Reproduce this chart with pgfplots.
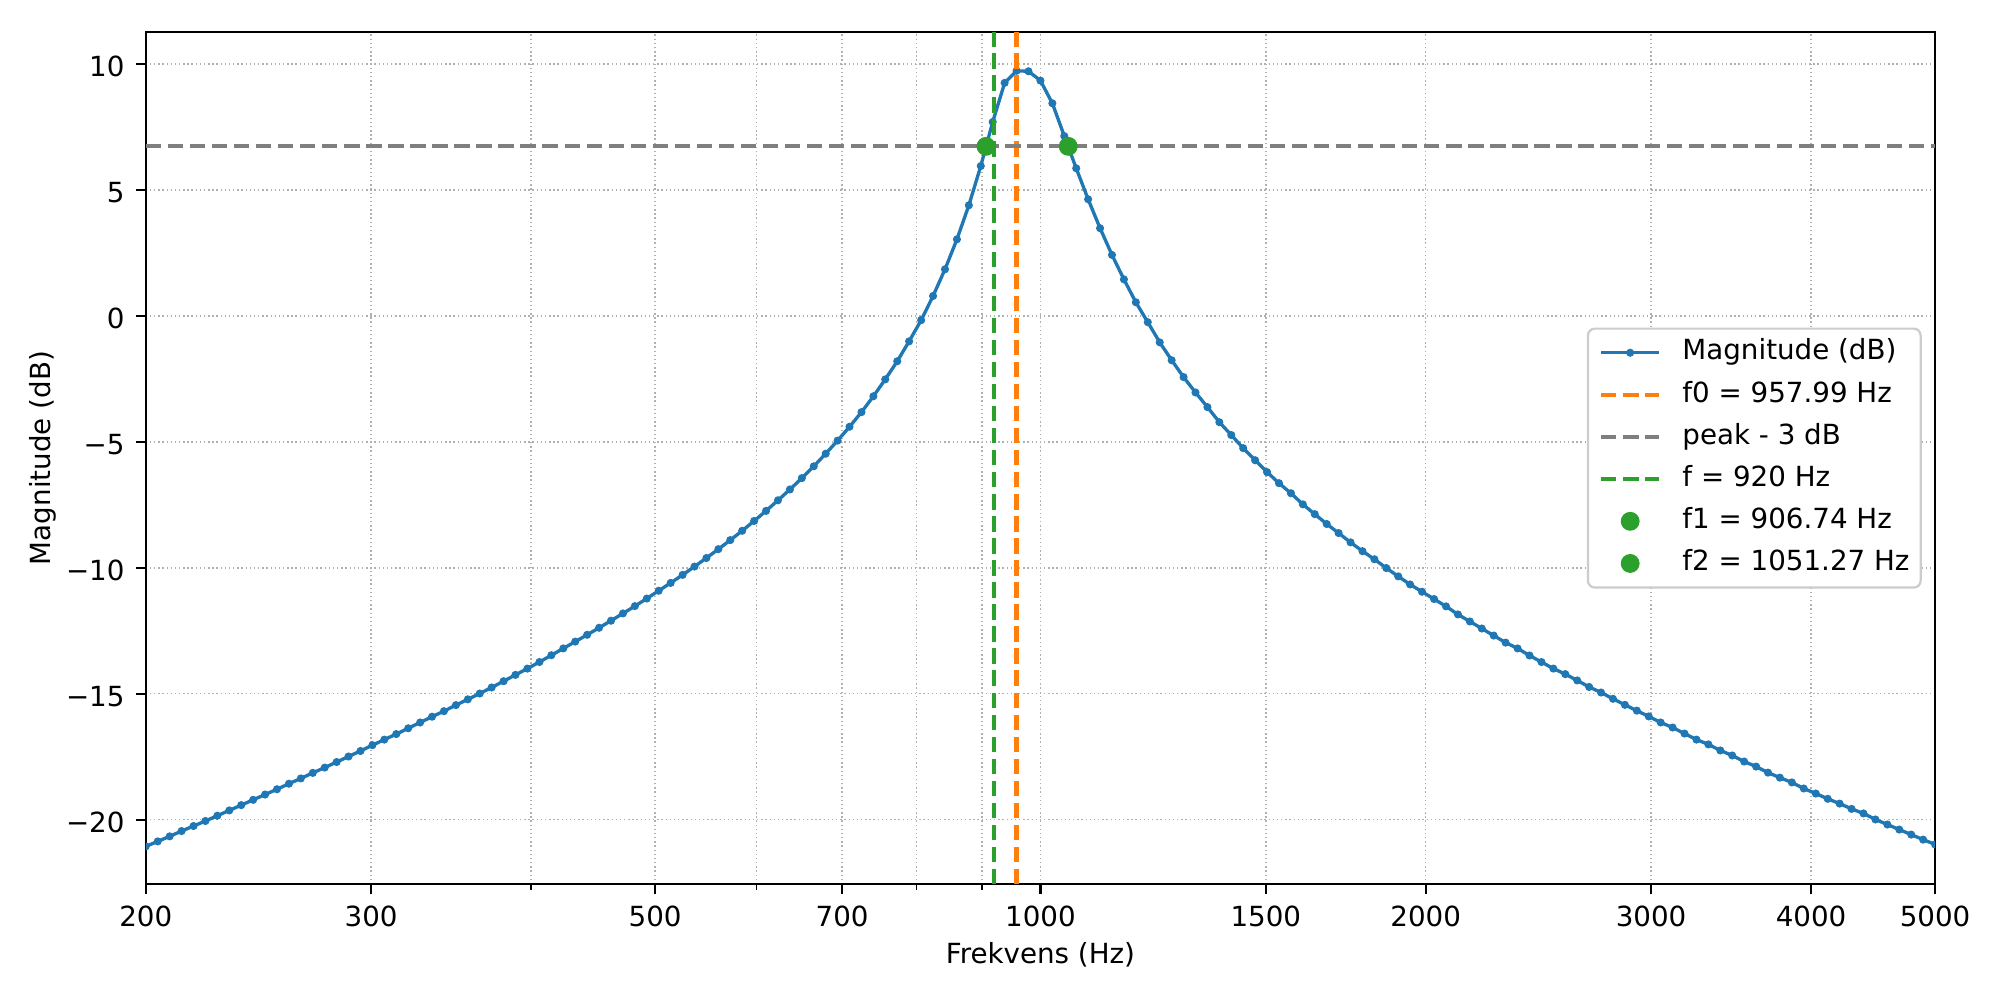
\documentclass[border=0pt]{standalone}
\usepackage{fontspec}
\setmainfont{DejaVu Sans}
\usepackage{pgfplots}
\usepackage{pgfplotstable}
\pgfplotsset{compat=1.18}

\definecolor{mplblue}{HTML}{1F77B4}
\definecolor{mplorange}{HTML}{FF7F0E}
\definecolor{mplgreen}{HTML}{2CA02C}
\definecolor{mplgray}{HTML}{7F7F7F}
\definecolor{gridgray}{HTML}{B0B0B0}
\definecolor{legendedge}{HTML}{CCCCCC}

% magnitude response, 151 log-spaced points from 200 Hz to 5000 Hz
\pgfplotstableread{
f mag
200 -21.06
204.338 -20.86
208.771 -20.66
213.299 -20.45
217.926 -20.25
222.653 -20.05
227.483 -19.84
232.417 -19.63
237.458 -19.42
242.609 -19.21
247.872 -19.00
253.249 -18.79
258.742 -18.57
264.354 -18.36
270.089 -18.14
275.947 -17.93
281.933 -17.71
288.048 -17.49
294.296 -17.27
300.680 -17.04
307.202 -16.82
313.866 -16.60
320.674 -16.37
327.629 -16.14
334.736 -15.91
341.997 -15.69
349.415 -15.45
356.994 -15.22
364.738 -14.99
372.650 -14.75
380.736 -14.50
388.995 -14.25
397.432 -14.00
406.053 -13.74
414.861 -13.47
423.860 -13.20
433.054 -12.93
442.447 -12.66
452.045 -12.38
461.850 -12.10
471.868 -11.81
482.103 -11.52
492.561 -11.22
503.245 -10.91
514.161 -10.60
525.313 -10.28
536.708 -9.95
548.349 -9.61
560.244 -9.26
572.396 -8.90
584.812 -8.53
597.497 -8.14
610.458 -7.74
623.699 -7.32
637.228 -6.89
651.036 -6.44
665.158 -5.97
679.586 -5.47
694.327 -4.95
709.388 -4.40
724.780 -3.82
740.501 -3.19
756.564 -2.52
772.974 -1.80
789.741 -1.01
806.870 -0.17
824.372 0.79
842.254 1.85
860.523 3.04
879.189 4.39
898.260 5.95
917.744 7.70
937.651 9.25
957.990 9.73
978.770 9.71
1000.00 9.34
1021.69 8.44
1043.86 7.14
1066.50 5.86
1089.63 4.63
1113.27 3.48
1137.42 2.42
1162.09 1.45
1187.29 0.54
1213.05 -0.25
1239.36 -1.05
1266.25 -1.76
1293.71 -2.43
1321.77 -3.04
1350.45 -3.62
1379.74 -4.22
1409.67 -4.73
1440.24 -5.25
1471.48 -5.73
1503.40 -6.20
1536.01 -6.64
1569.33 -7.04
1603.37 -7.48
1638.15 -7.87
1673.68 -8.26
1709.99 -8.62
1747.08 -8.99
1784.97 -9.34
1823.69 -9.66
1863.25 -10.01
1903.68 -10.34
1944.98 -10.66
1987.16 -10.95
2030.27 -11.24
2074.31 -11.53
2119.30 -11.85
2165.27 -12.13
2212.24 -12.41
2260.23 -12.69
2309.25 -12.97
2359.34 -13.20
2410.52 -13.48
2462.81 -13.74
2516.23 -14.00
2570.81 -14.22
2626.57 -14.47
2683.54 -14.73
2741.75 -14.95
2801.22 -15.20
2861.98 -15.44
2924.06 -15.67
2987.49 -15.90
3052.29 -16.14
3118.50 -16.34
3186.14 -16.58
3255.18 -16.82
3325.79 -17.01
3397.93 -17.25
3471.64 -17.45
3546.94 -17.69
3623.90 -17.89
3702.50 -18.13
3782.80 -18.33
3864.90 -18.52
3948.70 -18.76
4034.40 -18.96
4121.90 -19.17
4211.30 -19.36
4302.60 -19.57
4395.90 -19.75
4491.30 -19.99
4588.70 -20.19
4688.30 -20.39
4789.90 -20.59
4893.90 -20.79
5000.00 -20.98
}\magdata

\begin{document}
\begin{tikzpicture}
\begin{axis}[
  name=ax,
  scale only axis,
  width=645.4bp, height=307.4bp,
  xmode=log,
  xmin=200, xmax=5000,
  ymin=-22.56, ymax=11.27,
  xtick={200,300,500,700,1000,1500,2000,3000,4000,5000},
  xticklabels={200,300,500,700,1000,1500,2000,3000,4000,5000},
  minor xtick={400,600,800,900},
  ytick={-20,-15,-10,-5,0,5,10},
  yticklabels={−20,−15,−10,−5,0,5,10},
  tick align=outside,
  tick pos=left,
  major tick length=3.5bp,
  minor tick length=2bp,
  major tick style={black, line width=0.8bp},
  minor tick style={black, line width=0.6bp},
  axis line style={line width=0.8bp},
  grid=both,
  major grid style={gridgray, line width=0.5bp, dash pattern=on 0.5bp off 1bp},
  minor grid style={gridgray, line width=0.5bp, dash pattern=on 0.5bp off 1bp},
  font=\fontsize{10bp}{12bp}\selectfont,
  xticklabel style={anchor=north, inner sep=0pt, yshift=-4.3bp},
  yticklabel style={anchor=east, inner sep=0pt, xshift=-3.97bp, yshift=-0.85bp},
  xlabel={Frekvens (Hz)},
  ylabel={Magnitude (dB)},
  xlabel style={at={(axis description cs:0.5,-0.0930)}, anchor=base, inner sep=0pt},
  ylabel style={at={(axis description cs:-0.05345,0.5)}, anchor=base, inner sep=0pt},
  clip marker paths=true,
  legend cell align=left,
  legend style={
    at={(axis description cs:1,0.5)}, anchor=east, xshift=-4.8bp,
    draw=legendedge, line width=0.8bp, rounded corners=2.5bp, fill=white,
    inner xsep=4bp, inner ysep=3.7bp, row sep=5.2bp,
    font=\fontsize{10bp}{12bp}\selectfont,
    nodes={inner sep=0pt, text height=7.6bp, text depth=2.4bp},
    /tikz/every odd column/.append style={column sep=7.6bp},
  },
  legend image code/.code={
    \draw[mark repeat=2, mark phase=2, #1]
      plot coordinates {(0bp,0bp) (10.5bp,0bp) (21bp,0bp)};
  },
]

\addplot[mplblue, line width=1.2bp, mark=*, mark size=1.25bp,
  mark options={solid, line width=0.4bp}] table[x=f, y=mag] {\magdata};
\addlegendentry{Magnitude (dB)}

\addplot[mplorange, line width=1.5bp, dash pattern=on 5.55bp off 2.4bp]
  coordinates {(957.99,-22.56) (957.99,11.27)};
\addlegendentry{f0 = 957.99 Hz}

\addplot[mplgray, line width=1.5bp, dash pattern=on 5.55bp off 2.4bp]
  coordinates {(200,6.73) (5000,6.73)};
\addlegendentry{peak - 3 dB}

\addplot[mplgreen, line width=1.5bp, dash pattern=on 5.55bp off 2.4bp]
  coordinates {(920,-22.56) (920,11.27)};
\addlegendentry{f = 920 Hz}

\addplot[only marks, mark=*, mplgreen, mark size=3.2bp,
  mark options={line width=0.4bp}] coordinates {(906.74,6.73)};
\addlegendentry{f1 = 906.74 Hz}

\addplot[only marks, mark=*, mplgreen, mark size=3.2bp,
  mark options={line width=0.4bp}] coordinates {(1051.27,6.73)};
\addlegendentry{f2 = 1051.27 Hz}

\end{axis}
\pgfresetboundingbox
\path[use as bounding box]
  ([xshift=-52.56bp, yshift=-38.85bp]ax.south west)
  rectangle ([xshift=22.0bp, yshift=11.54bp]ax.north east);
\end{tikzpicture}
\end{document}
